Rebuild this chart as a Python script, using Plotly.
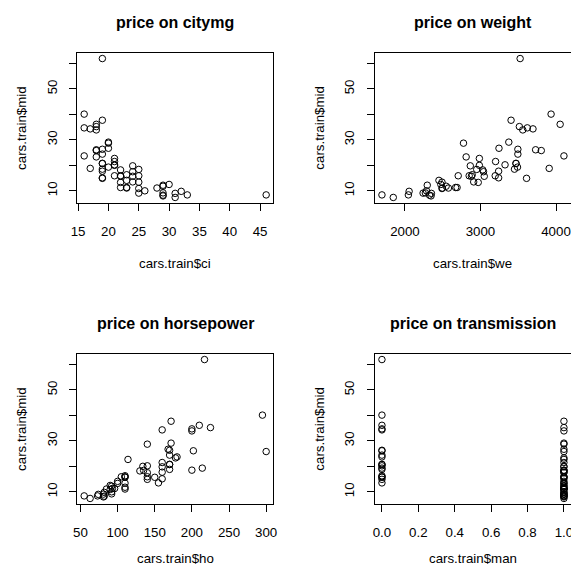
import plotly.graph_objects as go

# Training subset of Cars93
price = [15.9, 33.9, 29.1, 37.7, 15.7, 20.8, 23.7, 26.3, 34.7, 40.1, 13.4, 15.1, 15.9, 18.8,
         9.2, 11.3, 13.3, 25.8, 12.2, 19.3, 7.4, 11.3, 15.9, 20.2, 8.4, 12.5, 19.8, 17.5, 8.0,
         10.0, 35.2, 34.3, 36.1, 8.3, 61.9, 14.1, 14.9, 26.1, 11.8, 15.7, 21.5, 13.5, 16.3, 20.7,
         9.0, 11.1, 17.7, 18.5, 24.4, 28.7, 11.1, 8.4, 10.9, 9.8, 18.4, 18.2, 9.1, 20.0, 23.3,
         22.7, 26.7]
citympg = [25, 18, 20, 19, 22, 19, 16, 19, 16, 16, 25, 19, 21, 17,
           29, 23, 22, 18, 29, 20, 31, 22, 22, 21, 46, 30, 24, 24, 29,
           26, 18, 17, 18, 29, 19, 23, 19, 18, 29, 24, 21, 24, 23, 19,
           31, 23, 19, 19, 19, 20, 28, 33, 25, 32, 25, 22, 25, 21, 18,
           21, 20]
weight = [2705, 3560, 3375, 3405, 2880, 3470, 4105, 3495, 3620, 3935, 2490, 3240, 3195, 3910,
          2270, 2670, 2970, 3805, 2295, 3490, 1845, 2690, 2850, 3325, 1695, 2475, 2865, 3040, 2345,
          2285, 3515, 3695, 4055, 2325, 3525, 2450, 3610, 3730, 2545, 3050, 3200, 2910, 2890, 3470,
          2350, 2575, 3240, 3450, 3495, 2775, 2495, 2045, 2490, 2055, 2950, 3030, 2240, 2985, 2810,
          2985, 3245]
horsepower = [140, 200, 172, 172, 110, 170, 180, 170, 200, 295, 110, 160, 110, 170,
              92, 93, 100, 300, 92, 214, 63, 96, 105, 140, 55, 90, 160, 140, 81,
              92, 225, 160, 210, 82, 217, 100, 140, 202, 110, 150, 160, 155, 110, 170,
              74, 110, 160, 200, 170, 140, 85, 73, 90, 82, 135, 130, 81, 134, 178,
              114, 168]
manual = [1, 1, 1, 1, 0, 0, 0, 0, 0, 0, 1, 1, 0, 0,
          1, 1, 1, 1, 1, 0, 1, 1, 1, 0, 1, 1, 1, 1, 1,
          1, 1, 0, 0, 1, 0, 1, 0, 0, 1, 1, 1, 0, 0, 0,
          1, 1, 1, 1, 0, 1, 1, 1, 1, 1, 1, 1, 1, 1, 1,
          1, 1]

titles = ["price on citymg", "price on weight", "price on horsepower", "price on transmission"]
xlabels = ["cars.train$ci", "cars.train$we", "cars.train$ho", "cars.train$man"]
ylabel = "cars.train$mid"
xs = [citympg, weight, horsepower, manual]
xticks = [[15, 20, 25, 30, 35, 40, 45], [2000, 3000, 4000],
          [50, 100, 150, 200, 250, 300], [0.0, 0.2, 0.4, 0.6, 0.8, 1.0]]
xticktext = [[str(v) for v in xticks[0]], [str(v) for v in xticks[1]],
             [str(v) for v in xticks[2]], ["%.1f" % v for v in xticks[3]]]
yticks = [10, 20, 30, 40, 50, 60]
yticktext = ["10", "", "30", "", "50", ""]

W, H = 579, 569
# panel boxes in pixels (left, right, top, bottom) and x-label centre offsets
boxes = [(64, 264, 45, 195), (367, 567, 45, 195),
         (64, 264, 346, 496), (367, 567, 346, 496)]
xlab_off = [60, 60, 54, 54]

def rrange(v):
    lo, hi = min(v), max(v)
    d = (hi - lo) * 0.04
    return [lo - d, hi + d]

FONT = "Liberation Sans, Arial, Helvetica, sans-serif"
fig = go.Figure()
layout = dict(width=W, height=H, margin=dict(l=0, r=0, t=0, b=0),
              paper_bgcolor="white", plot_bgcolor="white", showlegend=False,
              font=dict(family=FONT, size=13.3, color="black"))
annotations = []
for i in range(4):
    n = "" if i == 0 else str(i + 1)
    L, R, T, B = boxes[i]
    fig.add_trace(go.Scatter(x=xs[i], y=price, mode="markers",
                             xaxis="x" + n, yaxis="y" + n,
                             marker=dict(symbol="circle-open", size=6.5, color="black",
                                         line=dict(width=1, color="black")),
                             hoverinfo="skip"))
    axcommon = dict(showline=True, mirror=True, linecolor="black", linewidth=1,
                    ticks="outside", ticklen=7, tickwidth=1, tickcolor="black",
                    showgrid=False, zeroline=False,
                    tickfont=dict(family=FONT, size=13.3, color="black"))
    layout["xaxis" + n] = dict(axcommon, domain=[L / W, R / W], anchor="y" + n,
                               range=rrange(xs[i]), tickmode="array",
                               tickvals=xticks[i], ticktext=xticktext[i],
                               ticklabelstandoff=9)
    layout["yaxis" + n] = dict(axcommon, domain=[1 - B / H, 1 - T / H], anchor="x" + n,
                               range=rrange(price), tickmode="array",
                               tickvals=yticks, ticktext=yticktext, tickangle=-90,
                               ticklabelstandoff=7)
    cx = (L + R) / 2 / W
    annotations.append(dict(text="<b>" + titles[i] + "</b>", x=cx, y=1 - (T - 31) / H,
                            xref="paper", yref="paper", showarrow=False,
                            xanchor="center", yanchor="middle",
                            font=dict(family=FONT, size=16, color="black")))
    annotations.append(dict(text=xlabels[i], x=cx, y=1 - (B + xlab_off[i]) / H,
                            xref="paper", yref="paper", showarrow=False,
                            xanchor="center", yanchor="middle",
                            font=dict(family=FONT, size=13.3, color="black")))
    annotations.append(dict(text=ylabel, x=(L - 57) / W, y=1 - (T + B) / 2 / H,
                            xref="paper", yref="paper", showarrow=False, textangle=-90,
                            xanchor="center", yanchor="middle",
                            font=dict(family=FONT, size=13.3, color="black")))
layout["annotations"] = annotations
fig.update_layout(**layout)
fig.write_html("out.html")
